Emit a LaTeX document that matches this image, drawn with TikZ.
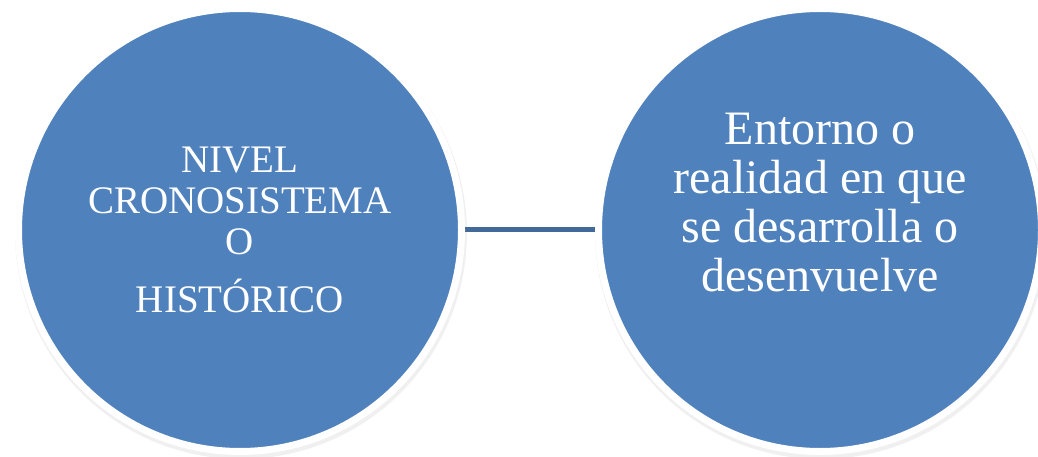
\documentclass[tikz,border=0pt]{standalone}
\usepackage{fontspec}
\setmainfont{Liberation Serif}
\usepackage{tikz}
\usetikzlibrary{shapes, calc, positioning, shadows, backgrounds}
\definecolor{bubbleblue}{HTML}{4F81BD}
\definecolor{linkblue}{HTML}{41699A}
\tikzstyle{bubble} = [circle, draw=white, line width=7pt, fill=bubbleblue, minimum size=443pt, inner sep=0pt, text=white, align=center, drop shadow={shadow xshift=1pt, shadow yshift=-3pt, shadow scale=1.02, opacity=0.12}]
\tikzstyle{bubbletext} = [text=white, align=center, inner sep=0pt]
\tikzstyle{link} = [draw=linkblue, line width=5pt]

\begin{document}
\begin{tikzpicture}[x=1pt, y=1pt]
                        \useasboundingbox (0,0) rectangle (1038,456);
                        \node[bubble, font=\fontsize{39}{41}\selectfont](nivel) at (240,226){NIVEL\\CRONOSISTEMA\\O\\[17pt]HISTÓRICO};
                        \node[bubble](entorno) at (820,226){};
                        \node[bubbletext, font=\fontsize{48}{49}\selectfont](entornotxt) at ([yshift=27pt]entorno.center){Entorno o\\realidad en que\\se desarrolla o\\desenvuelve};
                        \begin{scope}[on background layer]
                        \draw[link] ([yshift=0.5pt]nivel.east) -- ([yshift=0.5pt]entorno.west);
                        \end{scope}
                    \end{tikzpicture}
\end{document}
